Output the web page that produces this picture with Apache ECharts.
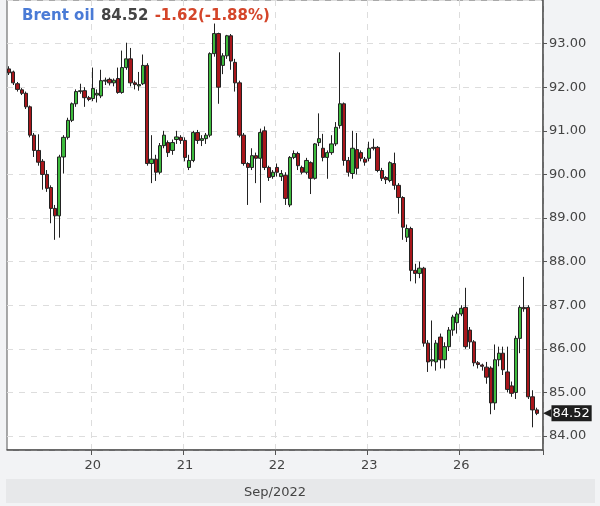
<!DOCTYPE html>
<html>
<head>
<meta charset="utf-8">
<script src="https://cdn.jsdelivr.net/npm/echarts@6/dist/echarts.min.js"></script>
<style>
  html, body { margin: 0; padding: 0; background: #f2f3f5; }
  #chart { width: 600px; height: 506px; }
</style>
</head>
<body>
<div id="chart"></div>
<script>
// Day labels (Sep 2022) and hourly candles per day: [open, close, low, high]
const dayLabels = ['19', '20', '21', '22', '23', '26'];
const monthLabel = 'Sep/2022';
const instrument = 'Brent oil';
const lastPrice = 84.52;
const change = '-1.62(-1.88%)';

const sep19 = [
  [92.42, 92.33, 92.28, 92.48], [92.35, 92.10, 92.05, 92.38], [92.08, 91.95, 91.90, 92.12],
  [91.94, 91.86, 91.82, 91.98], [91.86, 91.55, 91.50, 91.90], [91.55, 90.90, 90.85, 91.58],
  [90.90, 90.55, 90.40, 90.95], [90.55, 90.28, 90.20, 90.92], [90.30, 90.00, 89.65, 90.35],
  [90.00, 89.68, 89.60, 90.10], [89.70, 89.22, 88.88, 89.75], [89.22, 89.05, 88.50, 89.30],
  [89.05, 90.40, 88.55, 90.45], [90.40, 90.85, 90.02, 90.90], [90.85, 91.24, 90.80, 91.30],
  [91.24, 91.62, 91.20, 91.65], [91.62, 91.90, 91.55, 91.95], [91.90, 91.92, 91.85, 92.08],
  [91.92, 91.76, 91.55, 92.00], [91.76, 91.72, 91.68, 91.80]
];
const sep20 = [
  [91.74, 91.97, 91.68, 92.45], [91.82, 91.86, 91.65, 91.95], [91.80, 92.15, 91.75, 92.40],
  [92.14, 92.16, 92.05, 92.22], [92.18, 92.10, 92.04, 92.22], [92.10, 92.16, 92.02, 92.20],
  [92.20, 91.88, 91.85, 92.45], [91.88, 92.45, 91.85, 92.84], [92.45, 92.65, 92.40, 93.02],
  [92.65, 92.10, 92.02, 92.90], [92.10, 92.06, 91.95, 92.15], [92.03, 92.06, 91.92, 92.35],
  [92.08, 92.50, 92.05, 92.75], [92.50, 90.25, 90.20, 92.55], [90.25, 90.35, 89.80, 90.90],
  [90.35, 90.05, 89.85, 90.45], [90.05, 90.66, 90.00, 90.72], [90.66, 90.90, 90.60, 91.00],
  [90.73, 90.50, 90.40, 90.78], [90.55, 90.73, 90.45, 90.80], [90.80, 90.86, 90.70, 91.00],
  [90.85, 90.78, 90.70, 90.90]
];
const sep21 = [
  [90.78, 90.39, 90.30, 90.85], [90.16, 90.32, 90.10, 90.45], [90.32, 90.96, 90.28, 91.00],
  [90.96, 90.78, 90.70, 91.02], [90.78, 90.82, 90.65, 90.90], [90.82, 90.90, 90.70, 90.95],
  [90.90, 92.77, 90.85, 92.80], [92.77, 93.23, 92.70, 93.46], [93.23, 92.00, 91.62, 93.25],
  [92.50, 92.72, 92.30, 92.78], [92.72, 93.18, 92.65, 93.20], [93.18, 92.60, 92.40, 93.22],
  [92.57, 92.10, 91.90, 92.65], [92.10, 90.90, 90.85, 92.15], [90.90, 90.25, 90.20, 90.95],
  [90.25, 90.16, 89.30, 90.28], [90.16, 90.43, 90.10, 90.60], [90.43, 90.37, 89.80, 90.50],
  [90.37, 90.96, 89.35, 91.05], [91.00, 90.16, 90.10, 91.10], [90.16, 89.93, 89.85, 90.20],
  [89.95, 90.05, 89.90, 90.10]
];
const sep22 = [
  [90.16, 90.05, 89.95, 90.25], [89.95, 90.02, 89.85, 90.10], [89.98, 89.45, 89.30, 90.05],
  [89.30, 90.39, 89.25, 90.42], [90.39, 90.48, 90.35, 90.55], [90.48, 90.20, 90.10, 90.52],
  [90.16, 90.05, 90.00, 90.20], [90.05, 90.32, 90.00, 90.38], [90.27, 89.91, 89.55, 90.30],
  [89.91, 90.70, 89.88, 90.72], [90.73, 90.82, 90.65, 91.40], [90.60, 90.39, 90.30, 90.93],
  [90.39, 90.50, 89.90, 90.55], [90.50, 90.70, 90.45, 90.90], [90.70, 91.08, 90.65, 91.20],
  [91.12, 91.62, 91.05, 92.80], [91.62, 90.32, 90.20, 91.65], [90.32, 90.05, 89.95, 90.40],
  [90.02, 90.60, 89.90, 91.00], [90.57, 90.14, 90.00, 90.95], [90.50, 90.37, 90.30, 90.55],
  [90.35, 90.28, 90.20, 90.40]
];
const sep23 = [
  [90.37, 90.60, 90.30, 90.75], [90.62, 90.60, 90.55, 90.82], [90.62, 90.09, 90.05, 90.65],
  [90.09, 89.91, 89.85, 90.15], [89.93, 89.88, 89.78, 89.96], [89.86, 90.27, 89.82, 90.30],
  [90.25, 89.75, 89.65, 90.50], [89.75, 89.47, 89.10, 89.80], [89.47, 88.79, 88.50, 89.50],
  [88.56, 88.76, 88.45, 88.85], [88.76, 87.80, 87.55, 88.80], [87.80, 87.73, 87.50, 87.95],
  [87.73, 87.85, 87.62, 88.00], [87.85, 86.13, 86.05, 87.88], [86.13, 85.70, 85.47, 86.20],
  [85.72, 85.75, 85.60, 86.65], [85.70, 86.13, 85.50, 86.20], [86.27, 85.75, 85.55, 86.35],
  [85.75, 86.05, 85.55, 86.15], [86.05, 86.43, 85.95, 86.50], [86.43, 86.73, 86.30, 86.78],
  [86.60, 86.80, 86.35, 86.85]
];
const sep26 = [
  [86.80, 86.93, 86.75, 87.00], [86.95, 86.05, 86.00, 87.40], [86.43, 86.16, 86.00, 86.50],
  [86.16, 85.68, 85.60, 86.20], [85.68, 85.64, 85.55, 85.72], [85.63, 85.60, 85.50, 85.66],
  [85.58, 85.35, 85.20, 85.70], [85.56, 84.76, 84.50, 85.60], [84.76, 85.75, 84.60, 86.10],
  [85.75, 85.90, 85.60, 86.05], [85.90, 85.52, 85.40, 86.05], [85.47, 85.07, 85.00, 86.05],
  [85.15, 84.98, 84.90, 85.25], [85.00, 86.24, 84.85, 86.30], [86.24, 86.95, 85.90, 87.00],
  [86.95, 86.92, 86.85, 87.65], [86.95, 84.90, 84.85, 87.00], [84.90, 84.60, 84.20, 85.05],
  [84.60, 84.52, 84.48, 84.65], '-'
];

const days = [sep19, sep20, sep21, sep22, sep23, sep26];
const categories = [];
const ohlc = [];
days.forEach((d, di) => {
  d.forEach((c, i) => {
    categories.push(dayLabels[di] + '|' + i);
    ohlc.push(c);
  });
});

const isDayStart = (idx, val) => {
  const [d, i] = String(val).split('|');
  return i === '0' && d !== dayLabels[0];
};

const chart = echarts.init(document.getElementById('chart'), null, { renderer: 'canvas' });
const baseFont = 'DejaVu Sans, sans-serif';

chart.setOption({
  animation: false,
  backgroundColor: '#f2f3f5',
  textStyle: { fontFamily: baseFont },
  title: {
    left: 17, top: 2,
    text: '{a|' + instrument + '} {b|' + lastPrice.toFixed(2) + '} {c|' + change + '}',
    textStyle: {
      rich: {
        a: { color: '#4a7bd6', fontWeight: 'bold', fontSize: 15, fontFamily: baseFont },
        b: { color: '#444', fontWeight: 'bold', fontSize: 15, fontFamily: baseFont },
        c: { color: '#d4452a', fontWeight: 'bold', fontSize: 15, fontFamily: baseFont }
      }
    }
  },
  graphic: [{
    type: 'rect', left: 6, top: 479, z: -10,
    shape: { width: 589, height: 24 },
    style: { fill: '#e7e8ea' }
  }],
  grid: { left: 7, right: 57, top: 0, bottom: 56, show: true, backgroundColor: '#fff', borderColor: '#555', borderWidth: 1 },
  xAxis: {
    type: 'category',
    data: categories,
    boundaryGap: true,
    name: monthLabel,
    nameLocation: 'middle',
    nameGap: 36,
    nameTextStyle: { color: '#444', fontSize: 13, fontFamily: baseFont },
    axisLine: { lineStyle: { color: '#555', width: 1.5 } },
    axisTick: { show: true, interval: isDayStart, length: 5, lineStyle: { color: '#555' } },
    axisLabel: {
      interval: isDayStart, color: '#444', fontSize: 13, margin: 9,
      formatter: v => String(v).split('|')[0]
    },
    splitLine: { show: true, interval: isDayStart, lineStyle: { color: '#ddd', type: [6, 6] } }
  },
  yAxis: {
    type: 'value',
    position: 'right',
    min: 83.68, max: 94,
    splitNumber: 10,
    axisLine: { show: true, lineStyle: { color: '#555', width: 1.5 } },
    axisTick: { show: true, length: 4, lineStyle: { color: '#555' } },
    axisLabel: { color: '#444', fontSize: 13, margin: 6, showMinLabel: false, showMaxLabel: false, formatter: v => v.toFixed(2) },
    splitLine: { show: true, lineStyle: { color: '#ddd', type: [6, 6] } }
  },
  series: [{
    type: 'candlestick',
    data: ohlc.map(c => c === '-' ? '-' : [c[0], c[1], c[2], c[3]]),
    barWidth: 3.8,
    itemStyle: {
      color: '#3dbb3d', color0: '#a8161b',
      borderColor: '#222', borderColor0: '#222', borderWidth: 1
    },
    markLine: {
      silent: true,
      symbol: ['none', 'none'],
      lineStyle: { color: 'rgba(0,0,0,0)', width: 0 },
      data: [{ yAxis: lastPrice }],
      label: {
        show: true, position: 'end', distance: 0,
        formatter: '{t|◀}{v|' + lastPrice.toFixed(2) + '}',
        rich: {
          t: { color: '#1e1e1e', fontSize: 11, fontFamily: baseFont },
          v: { backgroundColor: '#1e1e1e', color: '#fff', fontSize: 13, padding: [2, 2, 1, 1], fontFamily: baseFont }
        }
      }
    }
  }]
});
</script>
</body>
</html>
